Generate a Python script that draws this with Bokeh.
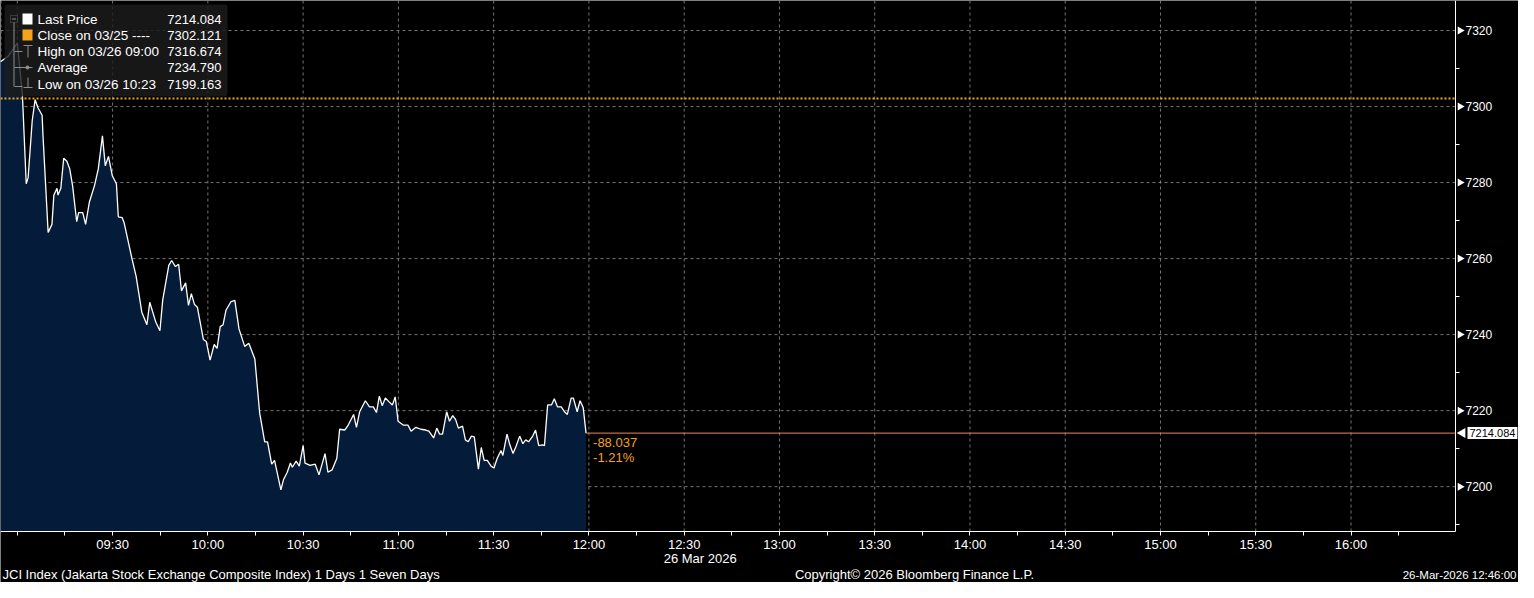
import math
from bokeh.plotting import figure
from bokeh.models import Range1d, FixedTicker, Label, BoxAnnotation
from bokeh.embed import file_html
from bokeh.resources import INLINE

# ---------------- data (minutes after 09:00, JCI index level) ----------------
minutes = [-5.3, -2.8, 0.0, 1.6, 2.8, 3.4, 4.7, 5.6, 6.5, 7.8,
           8.1, 9.7, 10.9, 11.5, 12.5, 12.8, 13.7, 14.6, 15.6, 16.5,
           17.4, 18.7, 19.3, 20.6, 21.5, 22.7, 24.3, 25.5, 26.8, 27.7,
           28.7, 29.9, 31.2, 31.8, 33.0, 33.6, 36.1, 37.4, 39.2, 40.8,
           41.7, 43.6, 44.9, 45.8, 47.7, 48.6, 49.8, 50.8, 51.7, 53.0,
           53.9, 54.8, 55.8, 56.7, 58.6, 59.5, 60.7, 62.0, 62.9, 63.9,
           64.8, 65.7, 67.3, 68.5, 69.8, 71.6, 72.9, 74.8, 76.3, 77.9,
           78.8, 80.1, 81.0, 83.0, 83.8, 85.0, 86.0, 86.6, 87.8, 88.8,
           90.0, 90.6, 92.2, 93.8, 95.0, 96.9, 97.8, 99.1, 100.6, 101.5,
           103.1, 104.0, 105.9, 106.8, 107.8, 109.6, 110.9, 112.1, 113.1, 114.0,
           114.9, 115.9, 117.1, 118.1, 119.0, 119.9, 121.5, 123.0, 124.0, 125.5,
           127.1, 128.6, 129.6, 131.1, 132.1, 133.0, 133.9, 135.2, 136.1, 137.1,
           138.0, 138.9, 140.2, 141.1, 142.0, 143.0, 143.9, 145.2, 146.1, 147.0,
           148.0, 149.2, 150.1, 151.1, 152.3, 152.9, 154.2, 155.1, 156.1, 157.0,
           158.2, 159.2, 160.1, 161.0, 162.3, 163.2, 164.2, 165.4, 166.0, 167.0,
           168.2, 169.1, 170.1, 171.3, 172.3, 173.2, 174.4, 175.1, 176.3, 177.2,
           178.2, 179.1]

price = [7311.8, 7313.3, 7316.674, 7303.1, 7279.7, 7281.3, 7296.4, 7301.8, 7299.7, 7297.7,
         7292.1, 7266.9, 7269.0, 7276.7, 7278.5, 7276.7, 7278.5, 7286.4, 7285.6, 7283.6,
         7279.2, 7269.7, 7272.1, 7272.1, 7269.0, 7274.9, 7279.2, 7283.6, 7292.3, 7284.4,
         7286.9, 7281.8, 7279.7, 7271.0, 7270.8, 7269.5, 7260.0, 7255.4, 7245.9, 7242.6,
         7248.5, 7243.3, 7241.0, 7249.2, 7258.2, 7259.5, 7257.9, 7258.5, 7251.5, 7253.6,
         7247.7, 7250.8, 7247.9, 7247.2, 7238.7, 7238.2, 7233.3, 7237.4, 7236.4, 7242.1,
         7242.6, 7246.4, 7248.7, 7249.0, 7241.5, 7236.9, 7237.7, 7233.6, 7219.5, 7211.8,
         7211.8, 7205.9, 7206.9, 7199.163, 7201.8, 7203.8, 7206.2, 7205.1, 7206.7, 7205.4,
         7210.8, 7206.2, 7205.6, 7205.9, 7203.1, 7208.7, 7203.8, 7204.4, 7207.4, 7215.1,
         7214.9, 7215.9, 7219.0, 7215.6, 7219.7, 7222.6, 7221.0, 7221.0, 7219.5, 7223.8,
         7221.3, 7223.3, 7222.3, 7221.5, 7223.6, 7217.2, 7216.2, 7216.2, 7214.6, 7215.6,
         7215.1, 7214.9, 7214.6, 7212.8, 7215.4, 7213.8, 7213.8, 7219.7, 7217.2, 7218.7,
         7217.7, 7215.4, 7215.9, 7212.3, 7211.8, 7213.3, 7213.1, 7204.6, 7210.3, 7206.9,
         7206.9, 7205.4, 7204.9, 7207.4, 7209.5, 7208.2, 7213.8, 7211.0, 7208.7, 7210.5,
         7213.3, 7211.3, 7212.3, 7211.8, 7213.3, 7214.9, 7210.8, 7211.0, 7210.8, 7221.5,
         7221.5, 7223.1, 7221.0, 7221.0, 7219.7, 7219.0, 7223.3, 7223.3, 7219.7, 7222.6,
         7220.8, 7214.084]

prev_close = 7302.121

x_tick_minutes = [0, 30, 60, 90, 120, 150, 180, 210, 240, 270, 300, 330, 360, 390, 420]
x_tick_labels = ["", "09:30", "10:00", "10:30", "11:00", "11:30", "12:00", "12:30",
                 "13:00", "13:30", "14:00", "14:30", "15:00", "15:30", "16:00"]
x_minor_minutes = [15, 45, 75, 105, 135, 165, 195, 225, 255, 285, 315, 345, 375, 405, 435]
y_ticks = [7200, 7220, 7240, 7260, 7280, 7300, 7320]
y_minor = [7190, 7210, 7230, 7250, 7270, 7290, 7310]

legend_labels = ["Last Price", "Close on 03/25 ----", "High on 03/26 09:00", "Average", "Low on 03/26 10:23"]
legend_values = ["7214.084", "7302.121", "7316.674", "7234.790", "7199.163"]
date_label = "26 Mar 2026"
footer_left = "JCI Index (Jakarta Stock Exchange Composite Index) 1 Days 1 Seven Days"
footer_mid = "Copyright\u00a9 2026 Bloomberg Finance L.P."
footer_right = "26-Mar-2026 12:46:00"

# ---------------- layout / styling ----------------
FONT = "Liberation Sans"
NAVY = "#041c3a"
ORANGE = "#f5a21c"
SALMON = "#f4845a"
GRID = "#8a8a8a"

W, H = 1518, 582          # canvas
PLOT_W, PLOT_H = 1455, 531  # pixel position of the value axis / time axis

X0, X_AXIS = -5.3, 452.9    # minutes at left edge / at value axis
Y_AXIS, Y1 = 7188.2, 7327.9  # value at time axis / at top edge
PXX = PLOT_W / (X_AXIS - X0)
PYY = PLOT_H / (Y1 - Y_AXIS)

def dx(px):
    return X0 + px / PXX

def dy(py):
    return Y1 - py / PYY

p = figure(width=W, height=H,
           x_range=Range1d(X0, X0 + W / PXX), y_range=Range1d(Y1 - H / PYY, Y1),
           y_axis_location="right", toolbar_location=None, output_backend="svg",
           background_fill_color="black", border_fill_color="black",
           outline_line_color=None, min_border_left=0, min_border_top=0,
           min_border_right=0, min_border_bottom=0)
p.grid.visible = False

# dashed grid (stops at the axes)
p.segment(x0=x_tick_minutes, y0=Y_AXIS, x1=x_tick_minutes, y1=Y1,
          line_color=GRID, line_dash="3 3", line_width=1, line_alpha=0.85)
p.segment(x0=X0, y0=y_ticks, x1=X_AXIS, y1=y_ticks,
          line_color=GRID, line_dash="3 3", line_width=1, line_alpha=0.85)
p.segment(x0=[dx(0.5)], y0=[Y_AXIS], x1=[dx(0.5)], y1=[Y1],
          line_color=GRID, line_dash="3 3", line_width=1, line_alpha=0.85)

# area + price line
p.varea(x=minutes, y1=Y_AXIS, y2=price, fill_color=NAVY, fill_alpha=1)
p.line(minutes, price, line_color="white", line_width=1.3)

# previous close (dotted)
p.segment(x0=[X0], y0=[prev_close], x1=[X_AXIS], y1=[prev_close],
          line_color=ORANGE, line_dash="2 2", line_width=2)

last = price[-1]
p.segment(x0=[minutes[-1]], y0=[last], x1=[X_AXIS], y1=[last], line_color=SALMON, line_width=1)

chg = last - prev_close
pct = chg / prev_close * 100
for txt, off in ((f"{chg:.3f}", -9), (f"{pct:.2f}%", -24)):
    p.add_layout(Label(x=minutes[-1], y=last, x_offset=7, y_offset=off, text=txt,
                       text_color=ORANGE, text_font=FONT, text_font_size="13px",
                       text_baseline="middle", text_align="left"))

# axes, pinned at the plot edges
xa = p.xaxis[0]
xa.fixed_location = Y_AXIS
xa.bounds = (X0, X_AXIS)
xa.ticker = FixedTicker(ticks=x_tick_minutes, minor_ticks=x_minor_minutes)
xa.major_label_overrides = {t: l for t, l in zip(x_tick_minutes, x_tick_labels)}
ya = p.yaxis[0]
ya.fixed_location = X_AXIS
ya.bounds = (Y_AXIS, Y1)
ya.ticker = FixedTicker(ticks=y_ticks, minor_ticks=y_minor)
for ax in (xa, ya):
    ax.axis_line_color = "white"
    ax.axis_line_width = 1
    ax.major_tick_line_color = "white"
    ax.minor_tick_line_color = "white"
    ax.major_tick_in = 0
    ax.minor_tick_in = 0
    ax.major_label_text_color = "white"
    ax.major_label_text_font = FONT
    ax.major_label_text_font_size = "12px"
xa.major_label_text_font_size = "13px"
xa.major_tick_out = 4
xa.minor_tick_out = 4
xa.major_label_standoff = 1
ya.major_tick_out = 8
ya.major_tick_line_color = None
ya.minor_tick_out = 4
ya.major_label_standoff = 2
# arrow-shaped major ticks on the value axis
p.scatter(x=[X_AXIS + 4.5 / PXX] * len(y_ticks), y=y_ticks, marker="triangle",
          size=8, angle=-math.pi / 2, fill_color="white", line_color=None)

# last price flag on the value axis
p.scatter(x=[X_AXIS + 7 / PXX], y=[last], marker="triangle", size=10, angle=math.pi / 2,
          fill_color="white", line_color=None)
p.add_layout(Label(x=X_AXIS, y=last, x_offset=12, text=f"{last:.3f}", text_color="black",
                   background_fill_color="white", text_font=FONT, text_font_size="11px",
                   text_baseline="middle", text_align="left", padding=2))

# date + footer
def blab(text, x, xo, yo, align, size="13px"):
    p.add_layout(Label(x=x, y=Y_AXIS, x_offset=xo, y_offset=yo, text=text, text_color="white",
                       text_font=FONT, text_font_size=size, text_baseline="middle",
                       text_align=align))

blab(date_label, x_tick_minutes[7], 16, -27, "center")
blab(footer_left, X0, 2, -43, "left")
blab(footer_mid, X0, 914, -43, "center")
blab(footer_right, X_AXIS, W - PLOT_W - 2, -43, "right", "11.5px")

# legend panel
p.add_layout(BoxAnnotation(left=dx(4), right=dx(227), top=dy(4), bottom=dy(96),
                           fill_color="#1c1c1c", fill_alpha=0.82, line_color=None,
                           border_radius=3))
p.add_layout(BoxAnnotation(left=dx(22), right=dx(32), top=dy(13), bottom=dy(24),
                           fill_color="white", fill_alpha=1, line_color=None))
p.add_layout(BoxAnnotation(left=dx(22), right=dx(32), top=dy(29), bottom=dy(40),
                           fill_color=ORANGE, fill_alpha=1, line_color=None))
p.add_layout(BoxAnnotation(left=dx(10), right=dx(17), top=dy(15), bottom=dy(22),
                           fill_alpha=0, line_color="#8c8c8c", line_width=1))
ICON = "#8c8c8c"
seg_x0 = [dx(11.5), dx(13.5), dx(14), dx(23), dx(27.5), dx(14), dx(14), dx(27.5), dx(23)]
seg_y0 = [dy(18.5), dy(22), dy(51), dy(45), dy(45), dy(67), dy(86), dy(77), dy(87)]
seg_x1 = [dx(15.5), dx(13.5), dx(22), dx(32), dx(27.5), dx(32), dx(22), dx(27.5), dx(32)]
seg_y1 = [dy(18.5), dy(86), dy(51), dy(45), dy(57), dy(67), dy(86), dy(87), dy(87)]
r = p.segment(x0=seg_x0, y0=seg_y0, x1=seg_x1, y1=seg_y1, line_color=ICON, line_width=1)
r.level = "overlay"
r2 = p.scatter(x=[dx(27)], y=[dy(67)], size=4, fill_color=ICON, line_color=None)
r2.level = "overlay"

row_y = [19, 35, 51, 67, 84]
for lab, val, ry in zip(legend_labels, legend_values, row_y):
    p.add_layout(Label(x=X0, y=Y1, x_offset=37, y_offset=-ry, text=lab, text_color="white",
                       text_font=FONT, text_font_size="13.5px", text_baseline="middle",
                       text_align="left"))
    p.add_layout(Label(x=X0, y=Y1, x_offset=221, y_offset=-ry, text=val, text_color="white",
                       text_font=FONT, text_font_size="13px", text_baseline="middle",
                       text_align="right"))

open("out.html", "w").write(file_html(p, INLINE))
